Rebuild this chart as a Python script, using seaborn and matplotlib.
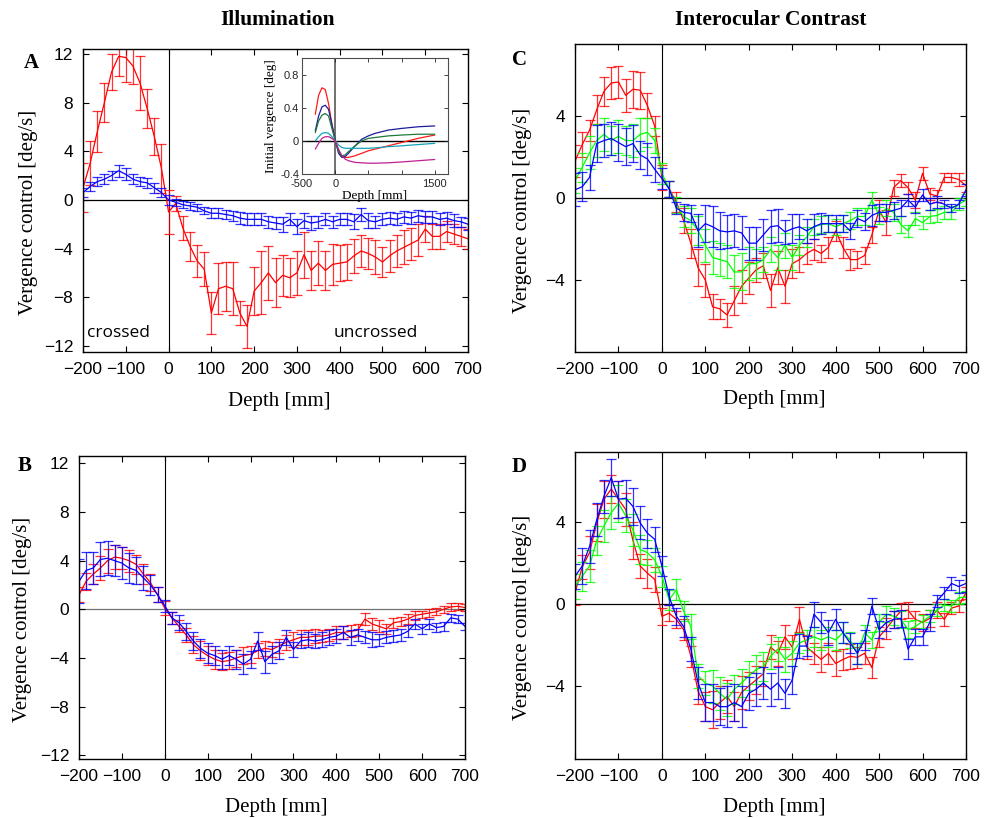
import numpy as np
import pandas as pd
import matplotlib
matplotlib.use('Agg')
import matplotlib.pyplot as plt
import seaborn as sns

sns.set_style('ticks')
plt.rcParams['font.family'] = ['Liberation Sans', 'DejaVu Sans']
plt.rcParams.update({'text.color': 'k', 'axes.labelcolor': 'k',
                     'xtick.color': 'k', 'ytick.color': 'k'})
SERIF = ['Liberation Serif', 'DejaVu Serif']

RED, GREEN, BLUE = '#ff0000', '#00ff00', '#0000ff'

# ── Data ──────────────────────────────────────────────────────────────────
DEPTH = np.linspace(-200, 700, 55)   # depth bins [mm]

# Panel A - illumination, upper condition
a_red = [1.0, 3.0, 5.6, 8.0, 10.5, 11.8, 11.7, 11.0, 9.6, 7.5, 5.2, 2.6, -1.0, -0.3,
         -2.3, -3.8, -5.0, -5.7, -9.3, -7.3, -7.1, -7.3, -9.3, -10.4, -7.5, -6.8, -6.0,
         -6.8, -6.2, -6.4, -6.0, -4.5, -5.8, -5.2, -5.8, -5.3, -5.2, -5.1, -4.6, -4.2,
         -4.4, -4.7, -5.1, -4.6, -4.2, -3.9, -3.6, -3.3, -2.4, -3.0, -3.0, -2.6, -2.8,
         -3.0, -3.2]
a_red_err = [2.0, 1.8, 1.7, 1.6, 1.5, 1.6, 2.0, 1.5, 2.2, 1.6, 1.5, 2.0, 1.8, 0.6,
             1.0, 1.2, 1.3, 1.4, 1.7, 2.1, 2.0, 2.2, 1.0, 1.8, 2.0, 2.6, 2.2, 2.0, 1.7,
             1.6, 1.8, 1.9, 1.6, 1.8, 1.6, 1.7, 1.5, 1.5, 1.4, 1.3, 1.3, 1.4, 1.2, 1.3,
             1.3, 1.4, 1.3, 1.3, 1.1, 1.0, 1.0, 0.9, 0.8, 0.8, 0.8]
a_blue = [0.6, 1.1, 1.5, 1.7, 2.0, 2.4, 2.1, 1.7, 1.5, 1.4, 1.0, 0.6, 0.0, -0.2, -0.4,
          -0.5, -0.6, -0.9, -1.1, -1.1, -1.2, -1.3, -1.5, -1.6, -1.6, -1.6, -1.8, -1.9,
          -2.0, -1.6, -2.2, -1.7, -1.9, -1.8, -1.6, -1.8, -1.6, -1.6, -1.8, -1.2, -1.7,
          -1.8, -1.6, -1.5, -1.6, -1.4, -1.5, -1.3, -1.4, -1.4, -1.6, -1.5, -1.7, -1.8,
          -2.0]
a_blue_err = [0.4, 0.4, 0.4, 0.4, 0.4, 0.5, 0.5, 0.4, 0.4, 0.4, 0.4, 0.4, 0.4, 0.3,
              0.3, 0.3, 0.3, 0.3, 0.4, 0.4, 0.4, 0.4, 0.5, 0.5, 0.5, 0.5, 0.5, 0.5, 0.6,
              0.5, 0.6, 0.6, 0.6, 0.5, 0.5, 0.5, 0.5, 0.5, 0.6, 0.5, 0.6, 0.5, 0.5, 0.5,
              0.5, 0.5, 0.5, 0.5, 0.5, 0.5, 0.5, 0.5, 0.5, 0.4, 0.5]

# Panel B - illumination, lower condition
b_red = [1.2, 2.3, 2.9, 3.4, 4.0, 4.3, 4.2, 4.0, 3.7, 2.9, 2.2, 1.2, 0.1, -0.7, -1.4,
         -2.1, -2.9, -3.4, -3.8, -4.1, -4.3, -4.2, -4.0, -3.8, -3.7, -3.4, -3.2, -3.3,
         -3.0, -2.7, -2.5, -2.3, -2.3, -2.2, -2.2, -2.1, -1.9, -1.9, -1.8, -1.7, -0.8,
         -1.2, -1.4, -1.6, -1.1, -1.0, -0.8, -0.5, -0.4, -0.3, -0.2, 0.0, 0.2, 0.25, 0.15]
b_red_err = [0.6, 0.7, 0.8, 1.0, 1.0, 1.0, 0.9, 0.9, 0.8, 0.8, 0.7, 0.6, 0.6, 0.5,
             0.5, 0.6, 0.7, 0.8, 0.8, 0.8, 0.7, 0.7, 0.7, 0.7, 0.7, 0.6, 0.6, 0.6, 0.6,
             0.6, 0.6, 0.6, 0.6, 0.6, 0.5, 0.5, 0.5, 0.5, 0.5, 0.5, 0.5, 0.5, 0.5, 0.4,
             0.4, 0.4, 0.4, 0.4, 0.3, 0.3, 0.3, 0.3, 0.3, 0.3, 0.3]
b_blue = [2.3, 3.2, 3.4, 4.1, 4.2, 4.0, 3.8, 3.4, 3.2, 2.6, 2.0, 1.2, 0.3, -0.7, -1.1,
          -1.8, -2.6, -3.2, -3.6, -3.8, -4.1, -3.8, -4.1, -4.5, -4.1, -2.6, -4.3, -3.7,
          -3.4, -2.3, -3.3, -2.6, -2.5, -2.6, -2.5, -2.3, -2.2, -1.9, -2.3, -2.1, -2.3,
          -2.5, -2.5, -2.3, -2.2, -2.1, -1.8, -1.2, -1.6, -1.2, -1.5, -1.4, -0.7, -0.8,
          -1.4]
b_blue_err = [1.8, 1.5, 1.3, 1.4, 1.4, 1.3, 1.3, 1.2, 1.1, 1.0, 0.8, 0.6, 0.5, 0.5,
              0.6, 0.7, 0.7, 0.8, 0.8, 0.8, 0.8, 0.8, 0.8, 0.8, 0.7, 0.7, 0.9, 0.7, 0.7,
              0.6, 0.6, 0.6, 0.6, 0.6, 0.6, 0.6, 0.6, 0.5, 0.6, 0.5, 0.5, 0.6, 0.5, 0.5,
              0.5, 0.5, 0.5, 0.4, 0.4, 0.4, 0.4, 0.4, 0.3, 0.3, 0.3]

# Panel C - interocular contrast, upper condition
c_red = [1.8, 2.6, 3.3, 4.3, 5.2, 5.6, 5.65, 5.0, 5.3, 5.25, 4.5, 3.5, 1.0, 0.45,
         -0.2, -1.1, -2.2, -3.4, -4.0, -5.3, -5.4, -5.7, -5.0, -4.3, -3.9, -3.5, -3.3,
         -4.5, -3.4, -4.3, -3.2, -3.0, -2.7, -2.5, -2.7, -2.4, -1.6, -2.4, -3.0, -3.0,
         -2.8, -1.8, -0.6, -1.2, 0.5, 0.85, 0.5, -0.1, 1.2, 0.2, 0.1, 1.0, 1.0, 0.9, 0.6]
c_red_err = [0.8, 0.6, 0.5, 0.7, 0.7, 0.8, 0.8, 0.8, 0.9, 0.9, 0.6, 0.5, 0.6, 0.4,
             0.5, 0.6, 0.7, 0.9, 0.8, 0.6, 0.5, 0.6, 0.7, 0.8, 0.8, 0.6, 0.6, 0.8, 0.8,
             0.8, 0.7, 0.6, 0.5, 0.5, 0.4, 0.5, 0.5, 0.5, 0.5, 0.4, 0.4, 0.4, 0.5, 0.6,
             0.4, 0.3, 0.3, 0.4, 0.3, 0.3, 0.3, 0.2, 0.2, 0.3, 0.3]
c_green = [0.85, 1.5, 2.2, 2.8, 3.1, 2.8, 3.0, 2.8, 2.8, 3.1, 3.2, 2.8, 1.2, 0.45,
           -0.35, -0.9, -1.1, -1.6, -2.3, -2.9, -3.0, -3.1, -3.6, -3.6, -3.2, -3.2,
           -3.0, -2.5, -2.9, -2.3, -2.9, -2.3, -1.9, -1.4, -1.3, -1.25, -1.4, -1.25,
           -1.1, -0.9, -0.9, -0.1, -0.85, -0.5, -0.7, -1.3, -1.6, -1.0, -1.2, -0.9,
           -0.85, -0.7, -0.7, -0.3, -0.1]
c_green_err = [0.6, 0.7, 0.8, 0.8, 0.8, 0.7, 0.8, 0.7, 0.8, 0.8, 0.7, 0.6, 0.5, 0.4,
               0.4, 0.5, 0.6, 0.7, 0.8, 0.8, 0.8, 0.8, 0.8, 0.9, 0.8, 0.7, 0.6, 0.6,
               0.6, 0.6, 0.6, 0.5, 0.5, 0.4, 0.4, 0.4, 0.4, 0.4, 0.4, 0.4, 0.4, 0.4,
               0.4, 0.4, 0.4, 0.4, 0.3, 0.3, 0.3, 0.3, 0.3, 0.3, 0.3, 0.3, 0.3]
c_blue = [0.4, 0.55, 1.0, 2.65, 2.8, 2.9, 2.7, 2.5, 2.65, 2.1, 1.9, 1.4, 0.95, 0.45,
          -0.5, -0.7, -0.75, -1.6, -1.25, -1.4, -1.6, -1.65, -1.6, -1.7, -2.2, -2.2,
          -1.8, -1.4, -1.35, -1.65, -1.5, -1.4, -1.6, -1.4, -1.25, -1.25, -1.25, -1.25,
          -1.6, -1.0, -1.15, -0.85, -0.7, -0.7, -0.6, -0.5, -0.1, -0.45, 0.15, -0.3,
          -0.2, -0.3, -0.5, -0.3, 0.4]
c_blue_err = [0.8, 0.7, 0.6, 0.9, 0.8, 0.8, 0.9, 0.9, 0.9, 0.7, 0.8, 0.6, 0.5, 0.4,
              0.3, 0.4, 0.4, 0.8, 0.9, 1.0, 0.9, 0.8, 0.8, 0.8, 0.8, 0.8, 0.8, 0.8, 0.8,
              0.6, 0.7, 0.6, 0.6, 0.6, 0.5, 0.4, 0.4, 0.4, 0.4, 0.4, 0.4, 0.5, 0.4, 0.4,
              0.4, 0.4, 0.3, 0.3, 0.3, 0.3, 0.3, 0.2, 0.2, 0.2, 0.3]

# Panel D - interocular contrast, lower condition
d_red = [0.55, 1.8, 2.5, 3.95, 5.1, 5.6, 5.1, 4.6, 3.1, 1.85, 1.5, 1.2, -0.6, -0.45,
         -0.75, -1.25, -2.55, -4.25, -5.0, -5.15, -4.8, -4.5, -5.0, -4.3, -4.0, -3.7,
         -3.4, -2.1, -2.4, -1.6, -2.1, -0.75, -2.1, -2.4, -2.7, -2.4, -2.9, -2.7, -2.55,
         -2.6, -2.4, -3.1, -1.6, -1.2, -0.75, -0.35, -0.3, -0.75, -0.9, -0.7, -0.3,
         -0.75, -0.2, -0.1, 0.55]
d_red_err = [0.6, 0.6, 0.8, 0.9, 0.9, 0.7, 0.9, 0.8, 0.9, 0.6, 0.7, 0.6, 0.4, 0.4,
             0.4, 0.5, 0.5, 0.6, 0.7, 0.9, 0.8, 0.8, 0.7, 0.8, 0.7, 0.7, 0.6, 0.6, 0.6,
             0.6, 0.6, 0.6, 0.6, 0.5, 0.6, 0.5, 0.6, 0.5, 0.6, 0.5, 0.5, 0.5, 0.5, 0.5,
             0.4, 0.4, 0.4, 0.4, 0.4, 0.4, 0.4, 0.3, 0.3, 0.3, 0.3]
d_green = [0.85, 1.35, 1.85, 3.1, 3.8, 4.45, 4.9, 4.3, 3.6, 2.65, 2.5, 2.15, 1.35, 0.2,
           0.7, -0.35, -1.1, -3.5, -3.85, -4.0, -4.35, -4.65, -4.15, -3.85, -3.5, -3.2,
           -3.05, -2.55, -2.2, -2.7, -2.4, -1.9, -1.75, -1.6, -1.75, -1.6, -1.75, -1.4,
           -1.75, -2.4, -1.4, -1.75, -0.9, -0.5, -0.6, -0.75, -1.25, -1.1, -0.85, -0.6,
           -0.3, -0.05, -0.1, 0.3, 0.35]
d_green_err = [0.6, 0.7, 0.8, 0.7, 0.8, 0.8, 0.9, 0.8, 0.8, 0.7, 0.6, 0.6, 0.5, 0.5,
               0.5, 0.5, 0.6, 0.6, 0.6, 0.8, 0.8, 0.8, 0.7, 0.7, 0.7, 0.7, 0.7, 0.6,
               0.6, 0.6, 0.6, 0.5, 0.5, 0.5, 0.5, 0.5, 0.5, 0.5, 0.4, 0.5, 0.4, 0.4,
               0.4, 0.4, 0.4, 0.4, 0.4, 0.3, 0.3, 0.3, 0.3, 0.3, 0.3, 0.3, 0.3]
d_blue = [1.35, 1.85, 2.8, 4.1, 5.25, 6.15, 5.1, 5.15, 4.75, 3.95, 3.45, 3.15, 1.85,
          0.35, -0.6, -1.1, -2.2, -3.85, -4.8, -4.8, -5.0, -5.0, -4.8, -5.0, -4.35,
          -4.15, -3.85, -4.15, -3.85, -4.35, -3.7, -2.05, -2.05, -0.5, -0.9, -1.4,
          -0.75, -1.4, -1.9, -2.4, -1.75, -0.1, -1.25, -0.9, -0.75, -0.7, -2.2, -1.6,
          -1.6, -0.9, 0.15, 0.55, 1.0, 0.85, 1.0]
d_blue_err = [0.6, 0.9, 0.8, 0.8, 0.8, 0.9, 0.9, 0.9, 0.9, 0.8, 0.7, 0.6, 0.5, 0.4,
              0.4, 0.5, 0.6, 0.8, 0.9, 0.9, 0.9, 1.0, 0.9, 1.0, 0.8, 0.8, 0.8, 0.8, 0.8,
              0.7, 0.7, 0.6, 0.5, 0.6, 0.5, 0.6, 0.5, 0.5, 0.5, 0.5, 0.5, 0.4, 0.4, 0.4,
              0.4, 0.4, 0.5, 0.4, 0.4, 0.4, 0.3, 0.3, 0.3, 0.3, 0.4]

# Inset of A - initial vergence curves
INSET_DEPTH = [-300, -250, -200, -150, -100, -50, 0, 50, 100, 150, 200, 300, 400, 500,
               600, 800, 1000, 1250, 1500]
inset_red = [0.32, 0.55, 0.64, 0.62, 0.45, 0.2, 0.0, -0.12, -0.18, -0.2, -0.2, -0.18,
             -0.15, -0.12, -0.1, -0.06, -0.02, 0.03, 0.07]
inset_navy = [0.12, 0.3, 0.41, 0.43, 0.38, 0.2, 0.01, -0.15, -0.2, -0.19, -0.15, -0.06,
              0.02, 0.06, 0.09, 0.13, 0.15, 0.17, 0.18]
inset_green = [0.1, 0.24, 0.31, 0.33, 0.3, 0.15, 0.01, -0.13, -0.18, -0.17, -0.13, -0.06,
               0.0, 0.03, 0.04, 0.06, 0.07, 0.08, 0.08]
inset_cyan = [0.0, 0.05, 0.09, 0.1, 0.09, 0.05, 0.0, -0.05, -0.08, -0.09, -0.09, -0.09,
              -0.09, -0.09, -0.085, -0.07, -0.06, -0.045, -0.03]
inset_magenta = [-0.1, -0.03, 0.03, 0.05, 0.05, 0.03, 0.0, -0.1, -0.18, -0.22, -0.24,
                 -0.26, -0.265, -0.27, -0.27, -0.265, -0.255, -0.24, -0.225]
INSET_COLORS = ['#ff1a1a', '#1c1c9a', '#1b7a3c', '#12a3b8', '#c0208f']


def draw_series(ax, y, err, color):
    """Mean line with error bars: the min/max of (y-e, y, y+e) gives the bar."""
    y = np.asarray(y)
    err = np.asarray(err)
    d = pd.DataFrame({'depth': np.tile(DEPTH, 3),
                      'v': np.concatenate([y - err, y, y + err])})
    n_before = len(ax.containers)
    sns.lineplot(data=d, x='depth', y='v', estimator='mean',
                 errorbar=lambda s: (s.min(), s.max()), err_style='bars',
                 err_kws={'capsize': 3.5, 'elinewidth': 0.9, 'capthick': 0.9},
                 color=color, lw=0.9, ax=ax, legend=False)
    # soften the bars a little, as in the original figure
    for cont in ax.containers[n_before:]:
        for art in list(cont.lines[1]) + list(cont.lines[2]):
            art.set_alpha(0.8)


def style_axes(ax, ylim, yticks, ylab_x, xlab_y, zero_color='k'):
    ax.axhline(0, color=zero_color, lw=0.9, zorder=0.5)
    ax.axvline(0, color='k', lw=0.8, zorder=0.5)
    ax.set_xlim(-200, 700)
    ax.set_ylim(*ylim)
    ax.set_xticks(range(-200, 701, 100))
    ax.set_yticks(yticks)
    ax.tick_params(direction='in', top=True, right=True, length=4, width=0.8,
                   labelsize=12.5, pad=7)
    for s in ax.spines.values():
        s.set_linewidth(1.0)
        s.set_color('k')
    ax.set_xlabel('Depth [mm]', family=SERIF, fontsize=15)
    ax.set_ylabel('Vergence control [deg/s]', family=SERIF, fontsize=15)
    ax.yaxis.set_label_coords(ylab_x, 0.46)
    ax.xaxis.set_label_coords(0.51, xlab_y)


fig = plt.figure(figsize=(9.87, 8.18), dpi=100)

ax_a = fig.add_axes([0.0841, 0.5697, 0.3901, 0.3704])
ax_b = fig.add_axes([0.0800, 0.0721, 0.3911, 0.3704])
ax_c = fig.add_axes([0.5826, 0.5697, 0.3961, 0.3765])
ax_d = fig.add_axes([0.5826, 0.0721, 0.3961, 0.3753])

draw_series(ax_a, a_red, a_red_err, RED)
draw_series(ax_a, a_blue, a_blue_err, BLUE)
style_axes(ax_a, (-12.5, 12.4), [-12, -8, -4, 0, 4, 8, 12], -0.117, -0.132)
ax_a.text(0.091, 0.063, 'crossed', transform=ax_a.transAxes, ha='center',
          va='center', fontsize=12.5, family=['Open Sans', 'DejaVu Sans'])
ax_a.text(0.761, 0.063, 'uncrossed', transform=ax_a.transAxes, ha='center',
          va='center', fontsize=12.5, family=['Open Sans', 'DejaVu Sans'])

draw_series(ax_b, b_red, b_red_err, RED)
draw_series(ax_b, b_blue, b_blue_err, BLUE)
style_axes(ax_b, (-12.3, 12.6), [-12, -8, -4, 0, 4, 8, 12], -0.122, -0.129,
           zero_color='0.45')

draw_series(ax_c, c_red, c_red_err, RED)
draw_series(ax_c, c_green, c_green_err, GREEN)
draw_series(ax_c, c_blue, c_blue_err, BLUE)
style_axes(ax_c, (-7.5, 7.5), [-4, 0, 4], -0.110, -0.123)

draw_series(ax_d, d_red, d_red_err, RED)
draw_series(ax_d, d_green, d_green_err, GREEN)
draw_series(ax_d, d_blue, d_blue_err, BLUE)
style_axes(ax_d, (-7.55, 7.4), [-4, 0, 4], -0.110, -0.127)

# ── Inset in panel A ──────────────────────────────────────────────────────
ax_in = fig.add_axes([0.3060, 0.7873, 0.1479, 0.1418])
for curve, col in zip([inset_red, inset_navy, inset_green, inset_cyan, inset_magenta],
                      INSET_COLORS):
    sns.lineplot(x=INSET_DEPTH, y=curve, color=col, lw=0.9, ax=ax_in, legend=False)
ax_in.axhline(0, color='k', lw=1.0, zorder=0.5)
ax_in.axvline(0, color='0.35', lw=1.2, zorder=0.5)
ax_in.set_xlim(-500, 1700)
ax_in.set_ylim(-0.4, 1.0)
ax_in.set_xticks([-500, 0, 500, 1000, 1500])
ax_in.set_xticklabels(['-500', '0', '', '', '1500'])
ax_in.set_yticks([-0.4, 0, 0.4, 0.8])
ax_in.set_yticklabels(['-0.4', '0', '0.4', '0.8'])
ax_in.tick_params(direction='in', top=True, right=True, length=3, width=0.6,
                  labelsize=8, colors='0.15')
ax_in.tick_params(axis='x', pad=3.5)
ax_in.tick_params(axis='y', pad=2)
for s in ax_in.spines.values():
    s.set_linewidth(0.8)
    s.set_color('0.3')
ax_in.set_xlabel('Depth [mm]', family=SERIF, fontsize=9.5, labelpad=1)
ax_in.set_ylabel('Initial vergence [deg]', family=SERIF, fontsize=9.5, labelpad=2)

# ── Panel letters and column titles ───────────────────────────────────────
for letter, (fx, fy) in {'A': (0.0314, 0.923), 'B': (0.0253, 0.430),
                         'C': (0.526, 0.927), 'D': (0.526, 0.429)}.items():
    fig.text(fx, fy, letter, ha='center', va='center', fontsize=15,
             fontweight='bold', family=SERIF)
fig.text(0.2817, 0.9756, 'Illumination', ha='center', va='center', fontsize=15.5,
         fontweight='bold', family=SERIF)
fig.text(0.7812, 0.9756, 'Interocular Contrast', ha='center', va='center',
         fontsize=15.5, fontweight='bold', family=SERIF)

fig.savefig('out.png', dpi=100)
